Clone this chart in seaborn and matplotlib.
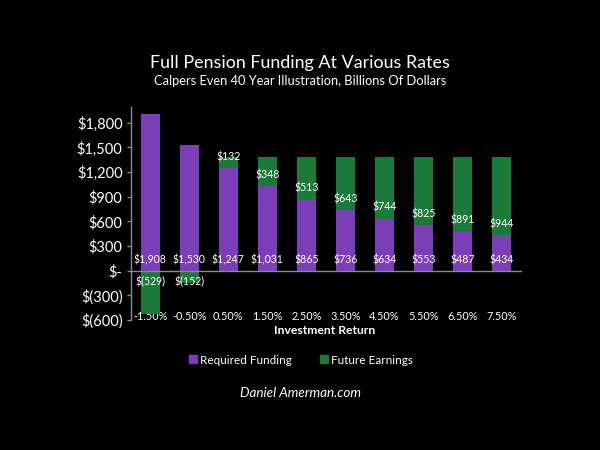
import matplotlib
matplotlib.use("Agg")
import matplotlib.pyplot as plt
import seaborn as sns
import pandas as pd
import numpy as np
from matplotlib.lines import Line2D

returns = ["-1.50%", "-0.50%", "0.50%", "1.50%", "2.50%", "3.50%", "4.50%", "5.50%", "6.50%", "7.50%"]
required_funding = [1908, 1530, 1247, 1031, 865, 736, 634, 553, 487, 434]
future_earnings = [-529, -152, 132, 348, 513, 643, 744, 825, 891, 944]
y_ticks = [-600, -300, 0, 300, 600, 900, 1200, 1500, 1800]

PURPLE = "#7b3db8"
GREEN = "#1b7a3a"
GREY = "#8a8a8a"

sns.set_theme(style="white")
plt.rcParams["font.family"] = ["Lato", "DejaVu Sans"]

def money(v):
    if v == 0:
        return "$-"
    if v < 0:
        return "$({:,})".format(-v)
    return "${:,}".format(v)

df = pd.DataFrame({"ret": returns, "req": required_funding, "fut": future_earnings})
green_bottom = [r if f > 0 else 0 for r, f in zip(required_funding, future_earnings)]

fig = plt.figure(figsize=(6, 4.5), dpi=100, facecolor="black")
ax = fig.add_axes([0.218, 0.289, 0.650, 0.473])
ax.set_facecolor("black")

sns.barplot(data=df, x="ret", y="req", color=PURPLE, saturation=1, width=0.48,
            ax=ax, linewidth=0)
sns.barplot(data=df, x="ret", y="fut", color=GREEN, saturation=1, width=0.48,
            ax=ax, linewidth=0, bottom=green_bottom)

ax.set_ylim(-600, 1990)
ax.set_xlim(-0.5, len(returns) - 0.5)
ax.set_yticks(y_ticks)
ax.set_yticklabels([money(v) for v in y_ticks], color="white", fontsize=10.5)

# x axis on zero line, labels at the bottom
ax.spines["bottom"].set_position(("data", 0))
for s in ["top", "right"]:
    ax.spines[s].set_visible(False)
ax.spines["bottom"].set_color(GREY)
ax.spines["left"].set_color(GREY)
ax.spines["bottom"].set_linewidth(1)
ax.spines["left"].set_linewidth(1)
ax.tick_params(axis="x", which="major", length=0, pad=29, labelcolor="white", labelsize=7.8)
ax.set_xticks([-0.5, 4.5, len(returns) - 0.5], minor=True)
ax.tick_params(axis="x", which="minor", length=4, direction="out", color=GREY, width=1)
ax.tick_params(axis="y", which="major", length=3, direction="out", color=GREY, width=1, left=True, pad=3)
ax.set_xlabel("")
ax.set_ylabel("")

# data labels
for i, (r, f, b) in enumerate(zip(required_funding, future_earnings, green_bottom)):
    ax.annotate(money(r), xy=(i, 0), xytext=(0, 8), textcoords="offset points",
                ha="center", va="center", color="white", fontsize=7.6)
    off = 8 if f > 0 else -8
    ax.annotate(money(f), xy=(i, b), xytext=(0, off), textcoords="offset points",
                ha="center", va="center", color="white", fontsize=7.6)

fig.text(0.5415, 1 - 330 / 450, "Investment Return", ha="center", va="center",
         color="white", fontsize=8.7, fontweight="bold")

fig.text(0.5, 1 - 63 / 450, "Full Pension Funding At Various Rates", ha="center",
         va="center", color="white", fontsize=12.9)
fig.text(0.5, 1 - 81 / 450, "Calpers Even 40 Year Illustration, Billions Of Dollars",
         ha="center", va="center", color="white", fontsize=9.25)

handles = [Line2D([], [], marker="s", linestyle="none", markersize=6,
                  markerfacecolor=PURPLE, markeredgecolor=PURPLE, label="Required Funding"),
           Line2D([], [], marker="s", linestyle="none", markersize=6,
                  markerfacecolor=GREEN, markeredgecolor=GREEN, label="Future Earnings")]
leg = fig.legend(handles=handles, loc="center", bbox_to_anchor=(0.5, 1 - 360 / 450),
                 ncol=2, frameon=False, fontsize=8.5, labelcolor="white",
                 handletextpad=0.1, columnspacing=2.2, handlelength=1)

fig.text(0.5, 1 - 393 / 450, "Daniel Amerman.com", ha="center", va="center",
         color="white", fontsize=9.7, fontstyle="italic")

fig.savefig("out.png", dpi=100, facecolor="black")
